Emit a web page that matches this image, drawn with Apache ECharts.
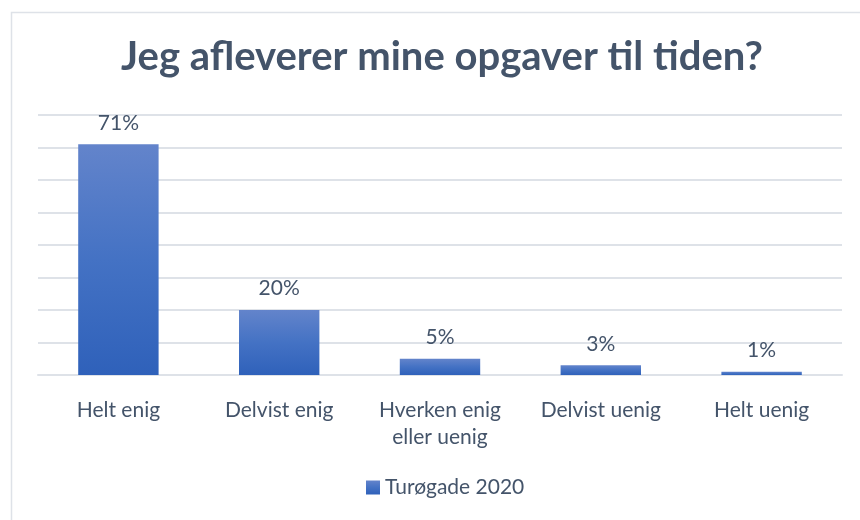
<!DOCTYPE html>
<html>
<head>
<meta charset="utf-8">
<script src="https://cdn.jsdelivr.net/npm/echarts@6/dist/echarts.min.js"></script>
<style>html,body{margin:0;padding:0;background:#fff}#c{width:860px;height:520px}</style>
</head>
<body>
<div id="c"></div>
<script>
const categories = ['Helt enig', 'Delvist enig', 'Hverken enig\neller uenig', 'Delvist uenig', 'Helt uenig'];
const values = [71, 20, 5, 3, 1];
const seriesName = 'Turøgade 2020';
const titleText = 'Jeg afleverer mine opgaver til tiden?';

const textColor = '#44546A';
const font = 'Lato, "Open Sans", sans-serif';
const chart = echarts.init(document.getElementById('c'), null, {renderer: 'canvas'});
chart.setOption({
  animation: false,
  backgroundColor: '#fff',
  graphic: [{
    type: 'rect', left: 9, top: 10, shape: {width: 870, height: 530},
    style: {fill: 'none', stroke: '#DEE2E8', lineWidth: 1.5}, silent: true
  }],
  title: {
    text: titleText, left: 116, top: 32,
    textStyle: {color: textColor, fontSize: 40, fontWeight: 'bold', fontFamily: font}
  },
  legend: {
    bottom: 17, left: 361, itemWidth: 14, itemHeight: 14, itemGap: 8,
    icon: 'rect',
    textStyle: {color: textColor, fontSize: 21, fontFamily: font}
  },
  grid: {left: 38, right: 18, top: 115, bottom: 145},
  xAxis: {
    type: 'category', data: categories,
    axisTick: {show: false},
    axisLine: {lineStyle: {color: '#DEE2E8', width: 2}},
    axisLabel: {color: textColor, fontSize: 21, fontFamily: font, margin: 22, lineHeight: 27, interval: 0}
  },
  yAxis: {
    type: 'value', min: 0, max: 80, interval: 10,
    axisLabel: {show: false}, axisLine: {show: false}, axisTick: {show: false},
    splitLine: {lineStyle: {color: '#DEE2E8', width: 2}}
  },
  series: [{
    name: seriesName, type: 'bar', data: values, barWidth: '50%',
    itemStyle: {
      color: new echarts.graphic.LinearGradient(0, 0, 0, 1, [
        {offset: 0, color: '#6384CB'},
        {offset: 0.5, color: '#4472C4'},
        {offset: 1, color: '#2F61BA'}
      ])
    },
    label: {
      show: true, position: 'top', distance: 11, formatter: '{c}%',
      color: textColor, fontSize: 21, fontFamily: font
    }
  }]
});
</script>
</body>
</html>
